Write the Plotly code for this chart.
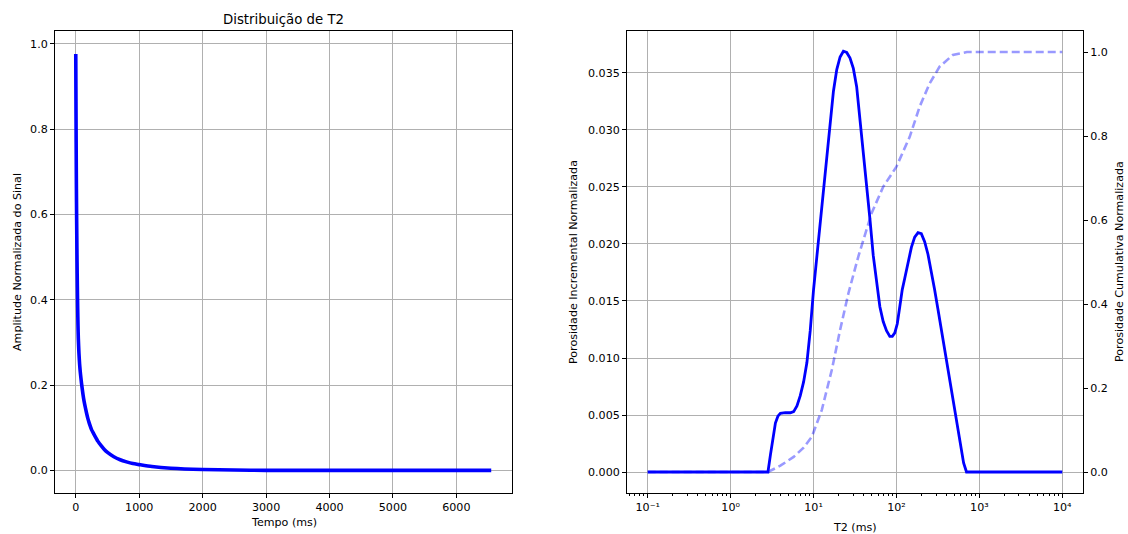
import plotly.graph_objects as go

# --- Sinal de decaimento (CPMG) ---
tempo_ms = [0, 2, 4, 6, 8, 10, 13, 16, 20, 25, 30, 35, 40, 50, 60, 70, 80, 90,
            100, 115, 130, 150, 170, 190, 210, 230, 250, 275, 300, 350, 400,
            450, 500, 600, 700, 800, 900, 1000, 1200, 1500, 2000, 2500, 3000,
            4000, 5000, 6000, 6550]
amplitude = [0.976, 0.90, 0.83, 0.77, 0.71, 0.66, 0.60, 0.55, 0.49, 0.43,
             0.38, 0.34, 0.31, 0.275, 0.25, 0.232, 0.218, 0.205, 0.193, 0.177,
             0.163, 0.148, 0.134, 0.122, 0.112, 0.103, 0.095, 0.088, 0.081,
             0.068, 0.058, 0.049, 0.042, 0.032, 0.025, 0.020, 0.016, 0.0135,
             0.009, 0.005, 0.002, 0.001, 0.0, 0.0, 0.0, 0.0, 0.0]

# --- Distribuição de T2 (expoente log10 de T2 em ms) ---
t2_log10 = [-1.0, 0.45, 0.48, 0.51, 0.54, 0.57, 0.60, 0.66, 0.72, 0.76, 0.80,
            0.84, 0.88, 0.92, 0.96, 1.00, 1.04, 1.08, 1.12, 1.16, 1.20, 1.24,
            1.28, 1.32, 1.36, 1.40, 1.44, 1.48, 1.52, 1.56, 1.60, 1.64, 1.68,
            1.72, 1.76, 1.80, 1.84, 1.88, 1.92, 1.95, 1.98, 2.01, 2.04, 2.07,
            2.10, 2.14, 2.18, 2.22, 2.26, 2.30, 2.34, 2.38, 2.42, 2.46, 2.50,
            2.54, 2.58, 2.62, 2.66, 2.70, 2.74, 2.78, 2.81, 2.845, 4.0]
porosidade_inc = [0.0, 0.0, 0.0015, 0.0030, 0.0043, 0.0049, 0.00515, 0.0052,
                  0.0052, 0.0053, 0.0058, 0.0067, 0.0079, 0.0096, 0.0124,
                  0.0160, 0.0190, 0.0218, 0.0248, 0.0278, 0.0308, 0.0334,
                  0.0353, 0.0364, 0.0369, 0.0368, 0.0363, 0.0354, 0.0338,
                  0.0310, 0.0278, 0.0250, 0.0222, 0.0190, 0.0165, 0.0145,
                  0.0132, 0.0124, 0.0119, 0.0119, 0.0122, 0.0130, 0.0145,
                  0.0160, 0.0170, 0.0184, 0.0197, 0.0206, 0.0210, 0.0209,
                  0.0202, 0.0191, 0.0177, 0.0160, 0.0143, 0.0126, 0.0108,
                  0.0090, 0.0072, 0.0055, 0.0038, 0.0021, 0.0008, 0.0, 0.0]

cum_log10 = [-1.0, 0.45, 0.60, 0.76, 0.88, 0.98, 1.10, 1.22, 1.32, 1.42, 1.54,
             1.64, 1.70, 1.84, 2.00, 2.16, 2.28, 2.40, 2.52, 2.68, 2.80, 2.85,
             4.0]
porosidade_cum = [0.0, 0.0, 0.015, 0.036, 0.058, 0.084, 0.148, 0.243, 0.338,
                  0.425, 0.513, 0.576, 0.616, 0.679, 0.727, 0.798, 0.870,
                  0.925, 0.965, 0.993, 0.999, 1.0, 1.0]

t2_ms = [10 ** v for v in t2_log10]
cum_ms = [10 ** v for v in cum_log10]

log_ticks = [0.1, 1, 10, 100, 1000, 10000]
log_tick_text = ["10⁻¹", "10⁰", "10¹", "10²", "10³", "10⁴"]
minor_vals = [m * 10 ** e for e in range(-2, 5) for m in range(2, 10)
              if 0.056 < m * 10 ** e < 17000]

W, H = 1128, 534
FONT = "DejaVu Sans"
TICK = 11.1
GRID = "#b0b0b0"


def px_x(p):
    return p / W


def px_y(p):
    return 1 - p / H


fig = go.Figure()

fig.add_trace(go.Scatter(x=tempo_ms, y=amplitude, mode="lines",
                         line=dict(color="#0000ff", width=3.6, shape="spline",
                                   smoothing=0.6),
                         xaxis="x", yaxis="y", showlegend=False))

fig.add_trace(go.Scatter(x=t2_ms, y=porosidade_inc, mode="lines",
                         line=dict(color="#0000ff", width=2.8),
                         xaxis="x2", yaxis="y2", showlegend=False))

fig.add_trace(go.Scatter(x=cum_ms, y=porosidade_cum, mode="lines",
                         line=dict(color="rgba(0,0,255,0.4)", width=2.6,
                                   dash="8px,4px"),
                         xaxis="x2", yaxis="y3", showlegend=False))

axis_common = dict(showline=True, linecolor="black", linewidth=1, mirror=True,
                   ticks="outside", ticklen=4, tickcolor="black",
                   tickfont=dict(family=FONT, size=TICK, color="black"),
                   showgrid=True, gridcolor=GRID, gridwidth=1, zeroline=False)

y_dom = [px_y(493), px_y(31)]

fig.update_layout(
    width=W, height=H,
    margin=dict(l=0, r=0, t=0, b=0),
    paper_bgcolor="white", plot_bgcolor="white",
    font=dict(family=FONT, color="black"),
    xaxis=dict(domain=[px_x(55), px_x(512)], range=[-327.5, 6877.5],
               tickvals=[0, 1000, 2000, 3000, 4000, 5000, 6000],
               anchor="y", **axis_common),
    yaxis=dict(domain=y_dom, range=[-0.053, 1.030],
               tickvals=[0, 0.2, 0.4, 0.6, 0.8, 1.0], tickformat=".1f",
               anchor="x", **axis_common),
    xaxis2=dict(domain=[px_x(627), px_x(1083)], type="log",
                range=[-1.25, 4.25], tickvals=log_ticks,
                ticktext=log_tick_text, anchor="y2",
                minor=dict(tickvals=minor_vals, ticks="outside", ticklen=2,
                           tickcolor="black", showgrid=False),
                **axis_common),
    yaxis2=dict(domain=y_dom, range=[-0.00184, 0.03868],
                tickvals=[0, 0.005, 0.010, 0.015, 0.020, 0.025, 0.030, 0.035],
                tickformat=".3f", anchor="x2", **axis_common),
    yaxis3=dict(overlaying="y2", side="right", anchor="x2",
                range=[-0.05, 1.05], tickvals=[0, 0.2, 0.4, 0.6, 0.8, 1.0],
                tickformat=".1f", showline=False, ticks="outside", ticklen=4,
                tickcolor="black", showgrid=False, zeroline=False,
                tickfont=dict(family=FONT, size=TICK, color="black")),
)

labels = [
    ("Distribuição de T2", 283.5, 20, 0, 13.3),
    ("Tempo (ms)", 283.5, 522, 0, TICK),
    ("Amplitude Normalizada do Sinal", 17, 262, -90, TICK),
    ("T2 (ms)", 855, 527, 0, TICK),
    ("Porosidade Incremental Normalizada", 573, 262, -90, TICK),
    ("Porosidade Cumulativa Normalizada", 1119, 262, -90, TICK),
]
for text, x, y, ang, size in labels:
    fig.add_annotation(text=text, x=px_x(x), y=px_y(y), xref="paper",
                       yref="paper", showarrow=False, textangle=ang,
                       xanchor="center", yanchor="middle",
                       font=dict(family=FONT, size=size, color="black"))

fig.write_html("out.html")
